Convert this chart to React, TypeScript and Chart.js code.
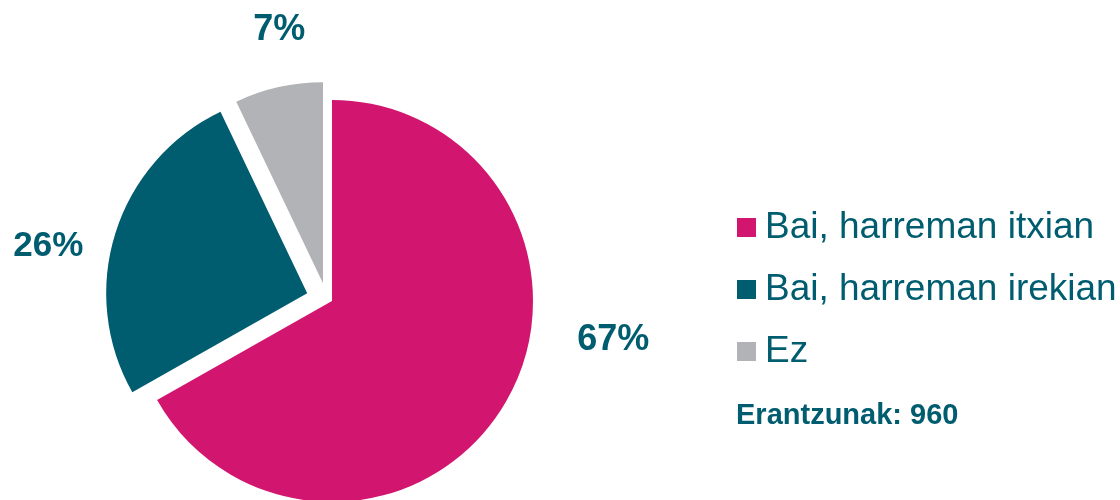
import React, { useEffect, useRef } from "react";
import { Chart, registerables } from "chart.js";

Chart.register(...registerables);

const categories: string[] = ["Bai, harreman itxian", "Bai, harreman irekian", "Ez"];
const values: number[] = [66.8, 26.1, 7.1];
const colors: string[] = ["#D21670", "#005C6F", "#B1B3B6"];
const footnote = "Erantzunak: 960";

// explode distance (px) and direction tweak (deg) per slice
const explodeDist: number[] = [0, 26, 20];
const explodeShiftDeg: number[] = [0, 0, -14];
// label placement: angle clockwise from top (deg) and distance from pie centre (px)
const labelAngleDeg: number[] = [98, 281, 349];
const labelDist: number[] = [284, 289, 276];

const TEXT = "#005C6F";
const FONT = '"Liberation Sans", Arial, sans-serif';

const explodePlugin = {
  id: "explode",
  afterDatasetUpdate(chart: any) {
    const meta = chart.getDatasetMeta(0);
    meta.data.forEach((arc: any, i: number) => {
      const d = explodeDist[i] || 0;
      if (!d) return;
      const mid = (arc.startAngle + arc.endAngle) / 2 + (explodeShiftDeg[i] * Math.PI) / 180;
      arc.x += Math.cos(mid) * d;
      arc.y += Math.sin(mid) * d;
    });
  },
};

const labelsPlugin = {
  id: "labelsLegend",
  afterDraw(chart: any) {
    const ctx = chart.ctx;
    const area = chart.chartArea;
    const cx = (area.left + area.right) / 2;
    const cy = (area.top + area.bottom) / 2;
    ctx.save();
    ctx.fillStyle = TEXT;
    ctx.textAlign = "center";
    ctx.textBaseline = "middle";
    values.forEach((v, i) => {
      const a = (labelAngleDeg[i] * Math.PI) / 180;
      const x = cx + Math.sin(a) * labelDist[i];
      const y = cy - Math.cos(a) * labelDist[i];
      ctx.font = `bold ${i === 1 ? 35 : 36}px ${FONT}`;
      ctx.fillText(Math.round(v) + "%", x, y);
    });

    // legend
    const lx = 737;
    const rowY = [227.5, 289.5, 351.5];
    ctx.textAlign = "left";
    ctx.font = `37px ${FONT}`;
    categories.forEach((c, i) => {
      ctx.fillStyle = colors[i];
      ctx.fillRect(lx, rowY[i] - 9.5, 19, 19);
      ctx.fillStyle = TEXT;
      ctx.fillText(c, lx + 28, rowY[i]);
    });
    ctx.font = `bold 29px ${FONT}`;
    ctx.fillText(footnote, 736, 416);
    ctx.restore();
  },
};

export default function App() {
  const ref = useRef<HTMLCanvasElement | null>(null);
  useEffect(() => {
    if (!ref.current) return;
    const chart = new Chart(ref.current, {
      type: "pie",
      data: {
        labels: categories,
        datasets: [
          {
            data: values,
            backgroundColor: colors,
            borderWidth: 0,
            radius: 201,
            clip: false,
          } as any,
        ],
      },
      options: {
        animation: false,
        responsive: true,
        maintainAspectRatio: false,
        devicePixelRatio: 1,
        layout: { padding: { left: 0, right: 456, top: 102, bottom: 0 } },
        plugins: {
          legend: { display: false },
          tooltip: { enabled: false },
        },
      },
      plugins: [explodePlugin, labelsPlugin],
    });
    return () => chart.destroy();
  }, []);
  return (
    <div style={{ position: "absolute", left: 0, top: 0, width: 1120, height: 500, background: "#fff" }}>
      <canvas ref={ref} />
    </div>
  );
}
